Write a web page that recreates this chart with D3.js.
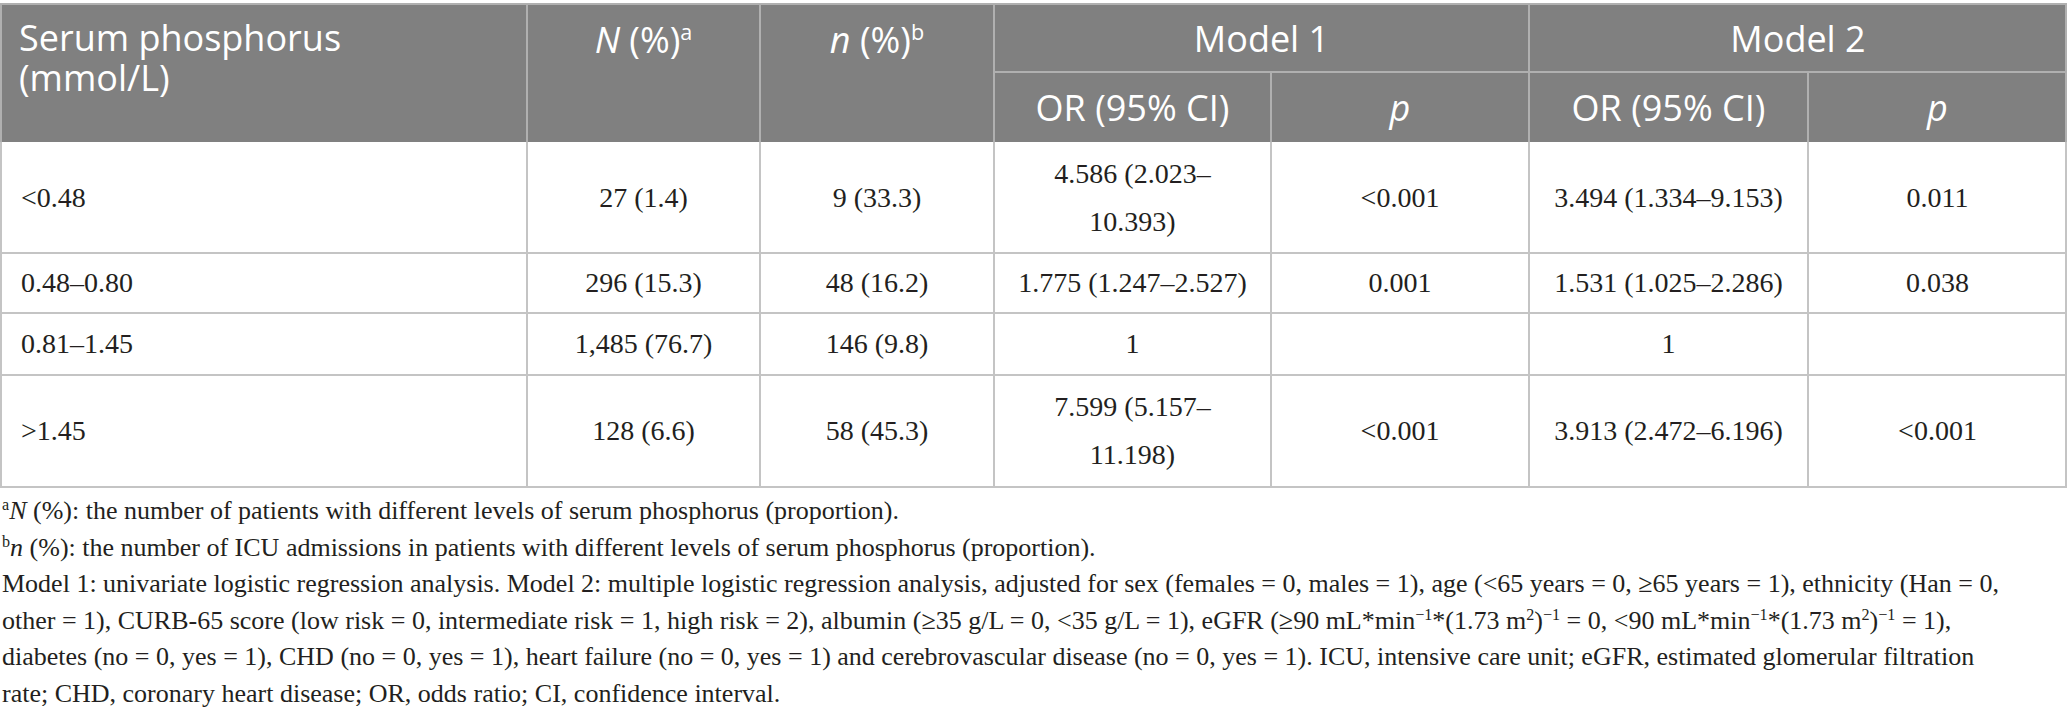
<!DOCTYPE html>
<html>
<head>
<meta charset="utf-8">
<script src="https://cdn.jsdelivr.net/npm/d3@7"></script>
<style>
  html, body { margin: 0; padding: 0; background: #ffffff; }
  svg { display: block; }
</style>
</head>
<body>
<svg id="chart" width="2067" height="726"></svg>
<script>
// ---------- data ----------
const categories = ["<0.48", "0.48–0.80", "0.81–1.45", ">1.45"];
const totalN     = ["27 (1.4)", "296 (15.3)", "1,485 (76.7)", "128 (6.6)"];
const icuN       = ["9 (33.3)", "48 (16.2)", "146 (9.8)", "58 (45.3)"];
const model1OR   = ["4.586 (2.023–10.393)", "1.775 (1.247–2.527)", "1", "7.599 (5.157–11.198)"];
const model1P    = ["<0.001", "0.001", "", "<0.001"];
const model2OR   = ["3.494 (1.334–9.153)", "1.531 (1.025–2.286)", "1", "3.913 (2.472–6.196)"];
const model2P    = ["0.011", "0.038", "", "<0.001"];

const stubHeader   = ["Serum phosphorus", "(mmol/L)"];
const headerGroups = ["Model 1", "Model 2"];
const subHeaders   = ["OR (95% CI)", "p", "OR (95% CI)", "p"];

// footnote lines as rich segments: [text, style]  style: n normal, i italic, s superscript
const footnotes = [
  [["a","s"],["N","i"],[" (%): the number of patients with different levels of serum phosphorus (proportion).","n"]],
  [["b","s"],["n","i"],[" (%): the number of ICU admissions in patients with different levels of serum phosphorus (proportion).","n"]],
  [["Model 1: univariate logistic regression analysis. Model 2: multiple logistic regression analysis, adjusted for sex (females = 0, males = 1), age (<65 years = 0, ≥65 years = 1), ethnicity (Han = 0,","n"]],
  [["other = 1), CURB-65 score (low risk = 0, intermediate risk = 1, high risk = 2), albumin (≥35 g/L = 0, <35 g/L = 1), eGFR (≥90 mL*min","n"],["−1","s"],["*(1.73 m","n"],["2","s"],[")","n"],["−1","s"],[" = 0, <90 mL*min","n"],["−1","s"],["*(1.73 m","n"],["2","s"],[")","n"],["−1","s"],[" = 1),","n"]],
  [["diabetes (no = 0, yes = 1), CHD (no = 0, yes = 1), heart failure (no = 0, yes = 1) and cerebrovascular disease (no = 0, yes = 1). ICU, intensive care unit; eGFR, estimated glomerular filtration","n"]],
  [["rate; CHD, coronary heart disease; OR, odds ratio; CI, confidence interval.","n"]]
];

// ---------- layout ----------
const W = 2067;
const colEdges = [0, 527, 760, 994, 1271, 1529, 1808, 2067];
const headTop = 4, headMid = 72, headBottom = 142;
const rowEdges = [142, 253, 313, 375, 487];
const headerBg = "#808080";
const headerLine = "#b0b0b0";
const bodyLine = "#c4c4c4";
const textColor = "#231f20";
const sansFont = "'Open Sans', 'Noto Sans', sans-serif";
const serifFont = "'Liberation Serif', 'DejaVu Serif', serif";
const headSize = 36;
const bodySize = 28;
const noteSize = 26;
const lineGap = 48;

const svg = d3.select("#chart");

// scales for columns and rows
const colIndex = d3.range(colEdges.length - 1);
const colX = d3.scaleOrdinal().domain(colIndex).range(colEdges.slice(0, -1));
const colW = d3.scaleOrdinal().domain(colIndex).range(colIndex.map(i => colEdges[i + 1] - colEdges[i]));
const rowIdx = d3.range(categories.length);
const rowY = d3.scaleOrdinal().domain(rowIdx).range(rowEdges.slice(0, -1));
const rowH = d3.scaleOrdinal().domain(rowIdx).range(rowIdx.map(i => rowEdges[i + 1] - rowEdges[i]));

// ---------- header background ----------
svg.append("rect")
  .attr("x", 0).attr("y", headTop)
  .attr("width", W).attr("height", headBottom - headTop)
  .attr("fill", headerBg);

// ---------- header lines ----------
const hl = svg.append("g").attr("stroke", headerLine).attr("stroke-width", 2);
hl.append("line").attr("x1", 0).attr("x2", W).attr("y1", headTop).attr("y2", headTop);
hl.append("line").attr("x1", colEdges[3]).attr("x2", W).attr("y1", headMid).attr("y2", headMid);
[1, 2, 3, 5].forEach(i => {
  hl.append("line").attr("x1", colEdges[i]).attr("x2", colEdges[i])
    .attr("y1", headTop).attr("y2", headBottom);
});
[4, 6].forEach(i => {
  hl.append("line").attr("x1", colEdges[i]).attr("x2", colEdges[i])
    .attr("y1", headMid).attr("y2", headBottom);
});
hl.append("line").attr("x1", 1).attr("x2", 1).attr("y1", headTop).attr("y2", headBottom);
hl.append("line").attr("x1", W - 1).attr("x2", W - 1).attr("y1", headTop).attr("y2", headBottom);

// ---------- header text ----------
const ht = svg.append("g").attr("fill", "#ffffff")
  .style("font-family", sansFont).style("font-size", headSize + "px");

stubHeader.forEach((s, i) => {
  ht.append("text").attr("x", 19).attr("y", 51 + i * 40).text(s);
});

function supHeader(cx, letter, main) {
  const t = ht.append("text").attr("x", cx).attr("y", 53).attr("text-anchor", "middle");
  t.append("tspan").style("font-style", "italic").text(main);
  t.append("tspan").text(" (%)");
  t.append("tspan").style("font-size", (headSize * 0.6) + "px").attr("dy", -13).text(letter);
}
supHeader(colX(1) + colW(1) / 2, "a", "N");
supHeader(colX(2) + colW(2) / 2, "b", "n");

headerGroups.forEach((g, k) => {
  const c0 = 3 + k * 2;
  ht.append("text")
    .attr("x", colX(c0) + (colW(c0) + colW(c0 + 1)) / 2)
    .attr("y", 52).attr("text-anchor", "middle").text(g);
});
subHeaders.forEach((s, k) => {
  const c = 3 + k;
  ht.append("text")
    .attr("x", colX(c) + colW(c) / 2).attr("y", 121)
    .attr("text-anchor", "middle")
    .style("font-style", s === "p" ? "italic" : "normal")
    .text(s);
});

// ---------- body lines ----------
const bl = svg.append("g").attr("stroke", bodyLine).attr("stroke-width", 2);
rowEdges.slice(1).forEach(y => {
  bl.append("line").attr("x1", 0).attr("x2", W).attr("y1", y).attr("y2", y);
});
colEdges.forEach((x, i) => {
  const xx = i === 0 ? 1 : (i === colEdges.length - 1 ? W - 1 : x);
  bl.append("line").attr("x1", xx).attr("x2", xx)
    .attr("y1", rowEdges[0]).attr("y2", rowEdges[rowEdges.length - 1]);
});

// ---------- body text ----------
const body = svg.append("g").attr("fill", textColor)
  .style("font-family", serifFont).style("font-size", bodySize + "px");

const columns = [categories, totalN, icuN, model1OR, model1P, model2OR, model2P];
const pad = 20;

columns.forEach((vals, c) => {
  vals.forEach((v, r) => {
    if (v === "") return;
    const cy = rowY(r) + rowH(r) / 2;
    const left = c === 0;
    const x = left ? 21 : colX(c) + colW(c) / 2;
    const t = body.append("text")
      .attr("x", x)
      .attr("text-anchor", left ? "start" : "middle")
      .attr("y", cy + bodySize * 0.33)
      .text(v);
    const maxW = colW(c) - 2 * pad;
    if (t.node().getComputedTextLength() > maxW && v.indexOf("–") > 0) {
      const cut = v.indexOf("–", v.indexOf("(")) + 1;
      const l1 = v.slice(0, cut), l2 = v.slice(cut);
      t.text(null);
      t.attr("y", cy - lineGap / 2 + bodySize * 0.33);
      t.append("tspan").attr("x", x).text(l1);
      t.append("tspan").attr("x", x).attr("dy", lineGap).text(l2);
    }
  });
});

// ---------- footnotes ----------
const fn = svg.append("g").attr("fill", textColor)
  .style("font-family", serifFont).style("font-size", noteSize + "px");
const noteTop = 519, noteGap = 36.6;
footnotes.forEach((segs, i) => {
  const t = fn.append("text").attr("x", 2).attr("y", noteTop + i * noteGap);
  let raised = false;
  segs.forEach(([txt, st]) => {
    const sp = t.append("tspan").text(txt);
    if (st === "s") {
      sp.style("font-size", (noteSize * 0.62) + "px");
      if (!raised) { sp.attr("dy", -9); raised = true; }
    } else {
      if (raised) { sp.attr("dy", 9); raised = false; }
      if (st === "i") sp.style("font-style", "italic");
    }
  });
});
</script>
</body>
</html>
